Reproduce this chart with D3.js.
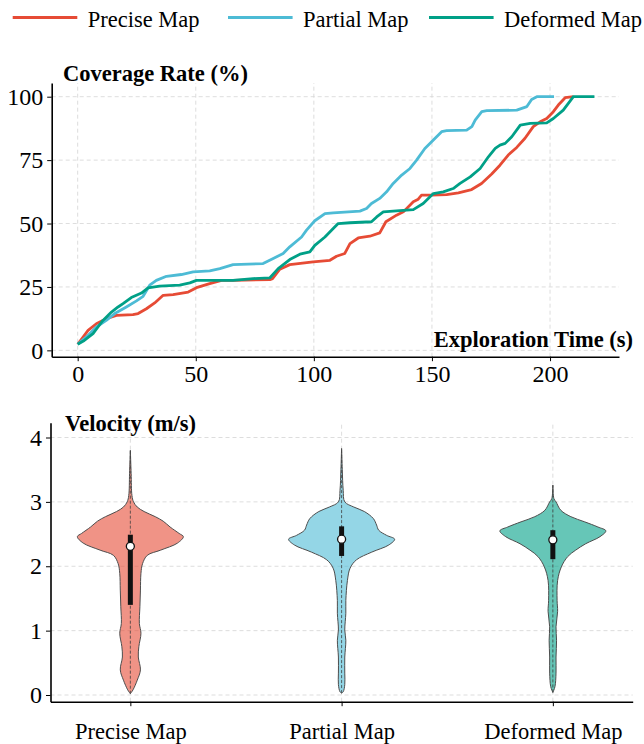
<!DOCTYPE html>
<html>
<head>
<meta charset="utf-8">
<script src="https://cdn.jsdelivr.net/npm/d3@7"></script>
<style>
  body { margin: 0; background: #fff; }
  svg text { font-family: "Liberation Serif", "Times New Roman", Tinos, "DejaVu Serif", serif; }
</style>
</head>
<body>
<div id="chart"></div>
<script>
// series names + colours
const seriesNames = ['Precise Map', 'Partial Map', 'Deformed Map'];
const seriesColors = ['#E64B35', '#4DBBD5', '#00A087'];

// coverage curves (time in s, coverage in %)
const preciseTime = [0,4.4,7.9,12.1,16.4,23.4,25.6,29.1,32.6,36.2,40.4,46.8,50.3,55.9,60.9,65.8,81.4,82.5,85.6,89.8,99.7,106.8,109.6,113.1,115.3,118.8,123.7,127.9,130.5,135,137.9,142.1,144.2,145.6,149.8,156.2,161.2,166.8,171,175.3,178.8,182.3,185.9,189.4,192.9,195.8,198.6,201.4,203.5,206.4,209.9];
const preciseCov = [2.4,7.9,10.5,12.5,13.8,14.1,14.5,16.4,18.7,21.7,22,23,24.7,26.3,27.6,27.6,27.9,28.3,32,33.8,34.9,35.5,37.1,38.2,42.1,44.3,45,46.3,50.7,53.3,54.6,58.6,59.6,61.2,61.2,61.4,62.1,63.4,65.8,69.5,73,77,80,83.6,88.2,90.1,91.4,94.1,96.7,99.6,100];

const partialTime = [0,3.7,7.9,12.1,15.7,20.6,24.9,27.7,30.5,33.3,37.6,43.9,48.9,55.9,60.2,65.8,78.5,82.8,87,89.8,94.8,96.9,100.4,104.7,108.2,119.5,122.3,124.4,127.9,130.8,133.6,137.2,140.7,143.5,147,150.6,154.1,156.2,164.7,166.9,168.3,171.1,173.2,185.9,190.2,192.2,194.4,201.7];
const partialCov = [2.4,5.3,9.2,11.8,14.5,17.1,19.5,21.3,25.7,27.6,29.2,29.9,30.9,31.3,32.2,33.8,34.2,36.2,38.2,40.8,44.7,47.4,51.1,53.9,54.2,54.9,55.9,57.9,59.9,62.5,65.8,69.1,71.7,75,79.6,82.9,86.2,86.6,86.8,88.2,90.8,94.1,94.5,94.7,96.1,98.9,100,100];

const deformedTime = [0,2.8,6.5,8.6,10.7,14.3,17.1,19.2,22.7,27,29.8,34.7,43.2,47.5,50.3,65.8,74.3,81.4,84.9,89.8,94.1,98.3,100.4,104.7,108.2,110.3,115.3,124.4,126.6,129.4,135,142.1,146.3,150.6,154.8,159,161.9,166.2,170.4,173.9,176.8,178.8,181,183.8,187.4,191.6,198.6,201.4,205.6,209.9,218.8];
const deformedCov = [2.4,3.9,6.6,9.2,11.8,15.1,17.1,18.4,20.8,22.6,24.6,25.3,25.7,26.6,27.6,27.6,28.3,28.6,32.2,35.8,37.9,38.8,41.4,44.7,48,50,50.3,50.7,52.6,54.6,55,55.5,57.9,61.8,62.5,63.8,65.8,68.4,71.7,76.3,79.6,80.9,81.6,84.2,88.8,89.5,89.7,91.4,94.7,100,100];

const timeTicks = [0, 50, 100, 150, 200];
const covTicks = [0, 25, 50, 75, 100];

// velocity violins: levels (m/s) and relative density (1 = widest)
const preciseVel = [0.02,0.08,0.23,0.39,0.59,0.75,0.96,1.11,1.37,1.63,1.89,2.04,2.17,2.25,2.36,2.46,2.51,2.61,2.70,2.77,2.85,2.92,3.0,3.10,3.44,3.80];
const preciseDen = [0,0.05,0.13,0.19,0.15,0.16,0.20,0.17,0.18,0.19,0.20,0.23,0.32,0.57,0.89,1.0,0.92,0.75,0.62,0.47,0.26,0.13,0.06,0.03,0.015,0];

const partialVel = [0.03,0.05,0.16,0.34,0.59,0.85,1.01,1.27,1.47,1.78,1.97,2.10,2.22,2.33,2.42,2.48,2.56,2.64,2.74,2.85,2.92,3.0,3.18,3.50,3.83];
const partialDen = [0,0.03,0.06,0.06,0.06,0.08,0.06,0.08,0.08,0.11,0.16,0.28,0.57,0.89,1.0,0.85,0.70,0.66,0.60,0.43,0.23,0.06,0.03,0.013,0];

const deformedVel = [0.04,0.13,0.34,0.59,0.85,1.06,1.30,1.47,1.78,1.99,2.15,2.25,2.35,2.46,2.55,2.61,2.69,2.77,2.87,3.0,3.05,3.26];
const deformedDen = [0,0.04,0.06,0.06,0.07,0.06,0.09,0.08,0.09,0.16,0.28,0.43,0.62,0.89,1.0,0.85,0.60,0.34,0.15,0.06,0.02,0];

// box stats [q1, median, q3]
const preciseBox = [1.40, 2.31, 2.49];
const partialBox = [2.16, 2.42, 2.62];
const deformedBox = [2.11, 2.41, 2.56];

const velTicks = [0, 1, 2, 3, 4];

const width = 644, height = 744;
const svg = d3.select('#chart').append('svg')
    .attr('width', width).attr('height', height);

// ---------- legend ----------
const legendX = [12.7, 228, 429];
const legend = svg.append('g');
seriesNames.forEach((name, i) => {
    legend.append('line')
        .attr('x1', legendX[i]).attr('x2', legendX[i] + 64.6)
        .attr('y1', 17.5).attr('y2', 17.5)
        .attr('stroke', seriesColors[i]).attr('stroke-width', 3);
    legend.append('text')
        .attr('x', legendX[i] + 75).attr('y', 26.5)
        .attr('font-size', 22.5)
        .text(name);
});

// ---------- top: coverage ----------
const xTop = d3.scaleLinear().domain([-11, 229.2]).range([51.7, 619]);
const yTop = d3.scaleLinear().domain([-2.5, 105.4]).range([356.7, 83]);

const topG = svg.append('g');

topG.append('g').selectAll('line')
    .data(timeTicks).enter().append('line')
    .attr('x1', d => xTop(d)).attr('x2', d => xTop(d))
    .attr('y1', yTop.range()[0]).attr('y2', yTop.range()[1])
    .attr('stroke', '#d4d4d4').attr('stroke-width', 0.8).attr('stroke-dasharray', '4,3');
topG.append('g').selectAll('line')
    .data(covTicks).enter().append('line')
    .attr('x1', xTop.range()[0]).attr('x2', xTop.range()[1])
    .attr('y1', d => yTop(d)).attr('y2', d => yTop(d))
    .attr('stroke', '#d4d4d4').attr('stroke-width', 0.8).attr('stroke-dasharray', '4,3');

const covSeries = [
    { t: preciseTime, c: preciseCov },
    { t: partialTime, c: partialCov },
    { t: deformedTime, c: deformedCov }
];
const line = d3.line().x(d => xTop(d[0])).y(d => yTop(d[1]));
covSeries.forEach((s, i) => {
    topG.append('path')
        .datum(s.t.map((t, j) => [t, s.c[j]]))
        .attr('d', line)
        .attr('fill', 'none')
        .attr('stroke', seriesColors[i])
        .attr('stroke-width', 2.8)
        .attr('stroke-linejoin', 'round');
});

const xAxisTop = topG.append('g')
    .attr('transform', `translate(0,${yTop.range()[0]})`)
    .call(d3.axisBottom(xTop).tickValues(timeTicks).tickFormat(d3.format('d')).tickSize(4.5).tickSizeOuter(0).tickPadding(4));
const yAxisTop = topG.append('g')
    .attr('transform', `translate(${xTop.range()[0]},0)`)
    .call(d3.axisLeft(yTop).tickValues(covTicks).tickFormat(d3.format('d')).tickSize(4.5).tickSizeOuter(0).tickPadding(4));

[xAxisTop, yAxisTop].forEach(a => {
    a.attr('font-family', null);
    a.select('.domain').attr('stroke-width', 1.6);
    a.selectAll('.tick text').attr('font-size', 24).attr('fill', '#000');
});

topG.append('text')
    .attr('x', 63).attr('y', 81)
    .attr('font-size', 22.5).attr('font-weight', 'bold')
    .text('Coverage Rate (%)');
topG.append('text')
    .attr('x', 633).attr('y', 347)
    .attr('text-anchor', 'end')
    .attr('font-size', 22.5).attr('font-weight', 'bold')
    .text('Exploration Time (s)');

// ---------- bottom: velocity violins ----------
const xBot = d3.scalePoint().domain(seriesNames).range([50.5, 632.7]).padding(0.378);
const yBot = d3.scaleLinear().domain([-0.104, 4.23]).range([701.7, 422.7]);
const wScale = d3.scaleLinear().domain([0, 1]).range([0, 53]);

const botG = svg.append('g');

botG.append('g').selectAll('line')
    .data(velTicks).enter().append('line')
    .attr('x1', xBot.range()[0]).attr('x2', xBot.range()[1])
    .attr('y1', d => yBot(d)).attr('y2', d => yBot(d))
    .attr('stroke', '#d4d4d4').attr('stroke-width', 0.8).attr('stroke-dasharray', '4,3');
botG.append('g').selectAll('line')
    .data(seriesNames).enter().append('line')
    .attr('x1', d => xBot(d)).attr('x2', d => xBot(d))
    .attr('y1', yBot.range()[0]).attr('y2', yBot.range()[1])
    .attr('stroke', '#d4d4d4').attr('stroke-width', 0.8).attr('stroke-dasharray', '4,3');

const violins = [
    { v: preciseVel, d: preciseDen, box: preciseBox },
    { v: partialVel, d: partialDen, box: partialBox },
    { v: deformedVel, d: deformedDen, box: deformedBox }
];

violins.forEach((vi, i) => {
    const cx = xBot(seriesNames[i]);
    const pts = vi.v.map((v, j) => [v, vi.d[j]]);
    const area = d3.area()
        .y(d => yBot(d[0]))
        .x0(d => cx - wScale(d[1]))
        .x1(d => cx + wScale(d[1]))
        .curve(d3.curveCatmullRom.alpha(0.5));
    botG.append('path')
        .datum(pts)
        .attr('d', area)
        .attr('fill', seriesColors[i])
        .attr('fill-opacity', 0.6)
        .attr('stroke', '#4d4d4d')
        .attr('stroke-width', 1);

    // inner dashed line over the violin
    botG.append('line')
        .attr('x1', cx).attr('x2', cx)
        .attr('y1', yBot(d3.min(vi.v))).attr('y2', yBot(d3.max(vi.v)))
        .attr('stroke', '#444').attr('stroke-width', 0.8).attr('stroke-dasharray', '3,2');

    // box
    botG.append('line')
        .attr('x1', cx).attr('x2', cx)
        .attr('y1', yBot(vi.box[0])).attr('y2', yBot(vi.box[2]))
        .attr('stroke', '#111').attr('stroke-width', 5);
    botG.append('circle')
        .attr('cx', cx).attr('cy', yBot(vi.box[1]))
        .attr('r', 4)
        .attr('fill', '#fff').attr('stroke', '#111').attr('stroke-width', 1.3);
});

const xAxisBot = botG.append('g')
    .attr('transform', `translate(0,${yBot.range()[0]})`)
    .call(d3.axisBottom(xBot).tickSize(4.5).tickSizeOuter(0).tickPadding(17));
const yAxisBot = botG.append('g')
    .attr('transform', `translate(${xBot.range()[0]},0)`)
    .call(d3.axisLeft(yBot).tickValues(velTicks).tickFormat(d3.format('d')).tickSize(4.5).tickSizeOuter(0).tickPadding(4));

[xAxisBot, yAxisBot].forEach(a => {
    a.attr('font-family', null);
    a.select('.domain').attr('stroke-width', 1.6);
    a.selectAll('.tick text').attr('fill', '#000');
});
xAxisBot.selectAll('.tick text').attr('font-size', 22.5);
yAxisBot.selectAll('.tick text').attr('font-size', 24);

botG.append('text')
    .attr('x', 65).attr('y', 431)
    .attr('font-size', 22.5).attr('font-weight', 'bold')
    .text('Velocity (m/s)');
</script>
</body>
</html>
